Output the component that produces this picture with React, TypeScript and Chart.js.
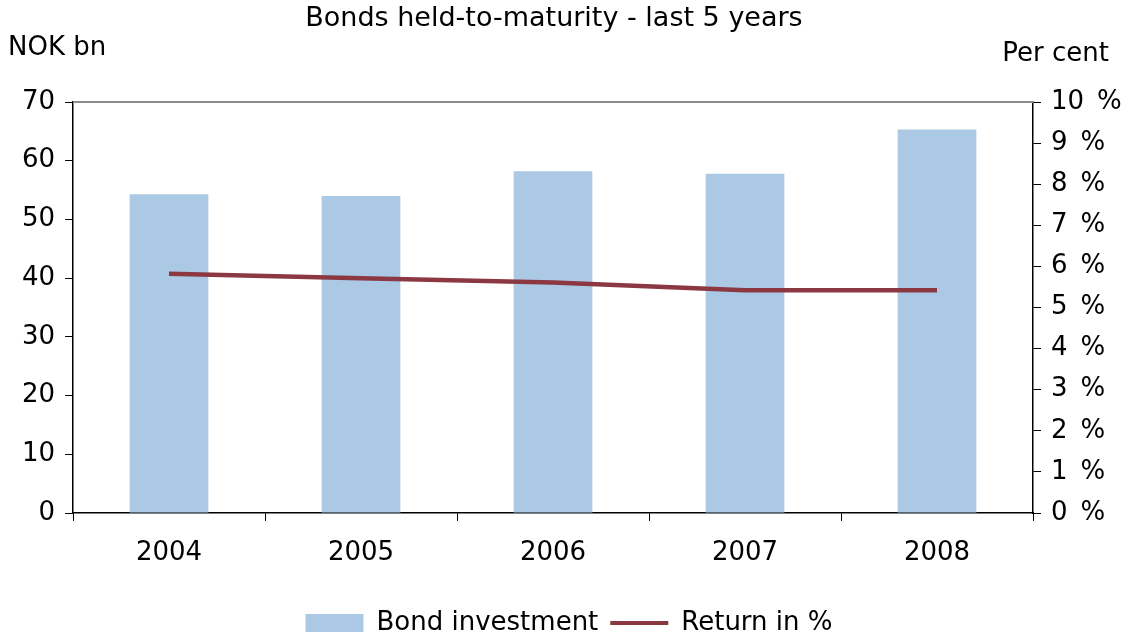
import React, { useEffect, useRef } from "react";
import { Chart, registerables } from "chart.js";

Chart.register(...registerables);

const years = ["2004", "2005", "2006", "2007", "2008"];
const bondInvestment = [54.3, 54.0, 58.2, 57.8, 65.3];
const returnPct = [5.82, 5.71, 5.61, 5.42, 5.42];
const leftTicks = [0, 10, 20, 30, 40, 50, 60, 70];
const rightTicks = [0, 1, 2, 3, 4, 5, 6, 7, 8, 9, 10];

const chartTitle = "Bonds held-to-maturity - last 5 years";
const leftUnit = "NOK bn";
const rightUnit = "Per cent";

const FONT = "'DejaVu Sans', Verdana, sans-serif";
const FS = 26;

const textPlugin = {
  id: "texts",
  afterDraw(chart: any) {
    const { ctx, chartArea } = chart;
    ctx.save();
    ctx.strokeStyle = "#8c8c8c";
    ctx.lineWidth = 2;
    ctx.beginPath();
    ctx.moveTo(chartArea.left, chartArea.top);
    ctx.lineTo(chartArea.right, chartArea.top);
    ctx.stroke();

    ctx.fillStyle = "#000";
    ctx.textBaseline = "middle";
    ctx.font = `27px ${FONT}`;
    ctx.textAlign = "center";
    ctx.fillText(chartTitle, 554, 19);
    ctx.font = `${FS}px ${FONT}`;
    ctx.textAlign = "left";
    ctx.fillText(leftUnit, 8, 48);
    ctx.textAlign = "right";
    ctx.fillText(rightUnit, 1109, 54);
    ctx.restore();
  },
};

export default function App() {
  const ref = useRef<HTMLCanvasElement | null>(null);

  useEffect(() => {
    document.body.style.margin = "0";
    if (!ref.current) return;
    const chart = new Chart(ref.current, {
      type: "bar",
      data: {
        labels: years,
        datasets: [
          {
            type: "bar",
            label: "Bond investment",
            data: bondInvestment,
            backgroundColor: "#abc9e4",
            borderWidth: 0,
            yAxisID: "y",
            order: 2,
            barPercentage: 0.41,
            categoryPercentage: 1,
          } as any,
          {
            type: "line",
            label: "Return in %",
            data: returnPct,
            borderColor: "#8b3843",
            backgroundColor: "#8b3843",
            borderWidth: 4.5,
            pointRadius: 0,
            tension: 0,
            yAxisID: "y1",
            order: 1,
          } as any,
        ],
      },
      options: {
        responsive: false,
        animation: false,
        font: { family: FONT, size: FS },
        layout: { padding: { top: 102, left: 0, right: 0, bottom: 0 } },
        plugins: {
          title: { display: false },
          tooltip: { enabled: false },
          legend: {
            display: true,
            position: "bottom",
            labels: {
              color: "#000",
              font: { family: FONT, size: FS },
              usePointStyle: true,
              pointStyleWidth: 58,
              boxHeight: 18,
              padding: 12,
              generateLabels: (c: any) =>
                c.data.datasets.map((ds: any, i: number) => ({
                  text: ds.label,
                  fillStyle: ds.type === "bar" ? ds.backgroundColor : ds.borderColor,
                  strokeStyle: ds.type === "bar" ? ds.backgroundColor : ds.borderColor,
                  lineWidth: ds.type === "bar" ? 0 : 4,
                  pointStyle: ds.type === "bar" ? "rect" : "line",
                  datasetIndex: i,
                  hidden: false,
                  fontColor: "#000",
                })),
            },
          },
        },
        scales: {
          x: {
            offset: true,
            grid: {
              offset: true,
              drawOnChartArea: false,
              drawTicks: true,
              tickLength: 8,
              tickColor: "#000",
            },
            border: { display: true, color: "#000", width: 1.5 },
            ticks: { color: "#000", font: { family: FONT, size: FS }, padding: 17, maxRotation: 0 },
            afterFit: (s: any) => {
              s.height = 85;
            },
          },
          y: {
            position: "left",
            min: 0,
            max: 70,
            afterBuildTicks: (s: any) => {
              s.ticks = leftTicks.map((v) => ({ value: v }));
            },
            grid: { drawOnChartArea: false, drawTicks: true, tickLength: 8, tickColor: "#000" },
            border: { display: true, color: "#000", width: 1.5 },
            ticks: { color: "#000", font: { family: FONT, size: FS }, padding: 10 },
            afterFit: (s: any) => {
              s.width = 73;
            },
          },
          y1: {
            position: "right",
            min: 0,
            max: 10,
            afterBuildTicks: (s: any) => {
              s.ticks = rightTicks.map((v) => ({ value: v }));
            },
            grid: { drawOnChartArea: false, drawTicks: true, tickLength: 8, tickColor: "#000" },
            border: { display: true, color: "#000", width: 1.5 },
            ticks: {
              color: "#000",
              font: { family: FONT, size: FS },
              padding: 10,
              callback: (v: any) => `${v}\u2002%`,
            },
            afterFit: (s: any) => {
              s.width = 105;
            },
          },
        },
      } as any,
      plugins: [textPlugin],
    });
    return () => chart.destroy();
  }, []);

  return (
    <div style={{ width: 1138, height: 640, overflow: "hidden" }}>
      <canvas ref={ref} width={1138} height={646} style={{ display: "block" }} />
    </div>
  );
}
